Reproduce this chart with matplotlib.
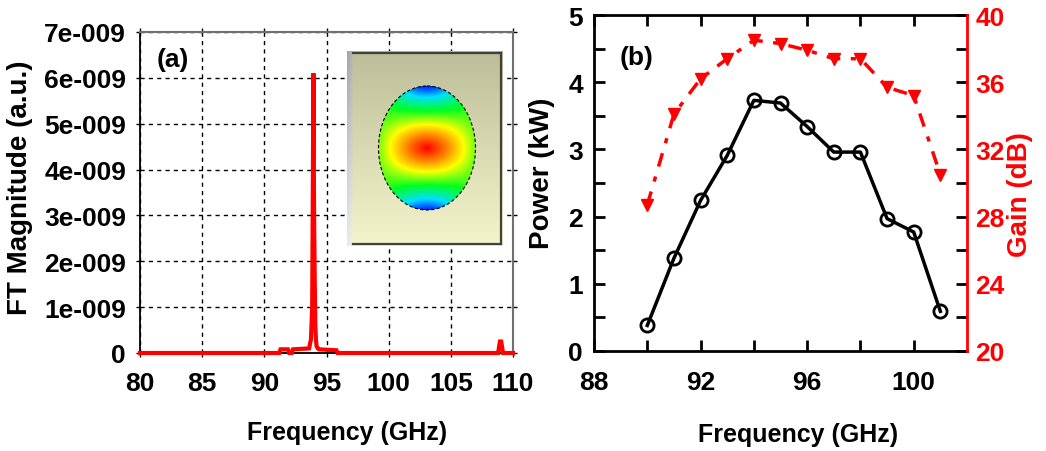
import numpy as np
import matplotlib
matplotlib.use('Agg')
import matplotlib.pyplot as plt
from matplotlib.colors import LinearSegmentedColormap
from matplotlib.patches import Ellipse
from matplotlib.ticker import FixedLocator, FixedFormatter, NullFormatter

plt.rcParams['font.family'] = ['Liberation Sans', 'DejaVu Sans']
plt.rcParams['font.weight'] = 'bold'

# ---------------- panel (a) data: FT spectrum ----------------
fft_freq = [80.0, 91.2, 91.3, 91.9, 92.0, 92.2, 92.3, 93.6, 93.75, 93.85,
            93.95, 94.0, 94.05, 94.1, 94.15, 94.2, 94.3, 94.4, 95.8, 95.9,
            108.8, 108.95, 109.05, 109.2, 110.0]
fft_mag = [0.0, 0.0, 0.08e-9, 0.08e-9, 0.0, 0.0, 0.08e-9, 0.1e-9, 0.3e-9, 1.0e-9,
           6.1e-9, 3.0e-9, 1.65e-9, 0.6e-9, 0.3e-9, 0.15e-9, 0.1e-9, 0.08e-9, 0.06e-9, 0.0,
           0.0, 0.25e-9, 0.25e-9, 0.0, 0.0]
a_xticks = [80, 85, 90, 95, 100, 105, 110]
a_yticks = [0, 1e-9, 2e-9, 3e-9, 4e-9, 5e-9, 6e-9, 7e-9]
a_yticklabels = ['0', '1e-009', '2e-009', '3e-009', '4e-009', '5e-009', '6e-009', '7e-009']

# ---------------- panel (b) data: power & gain ----------------
freq_b = [90, 91, 92, 93, 94, 95, 96, 97, 98, 99, 100, 101]
power_kw = [0.38, 1.38, 2.24, 2.91, 3.73, 3.69, 3.34, 2.96, 2.96, 1.97, 1.77, 0.59]
gain_db = [28.7, 34.1, 36.2, 37.4, 38.5, 38.3, 37.9, 37.4, 37.4, 35.7, 35.2, 30.5]
b_xticks = [88, 92, 96, 100]
b_xminor = [90, 94, 98]
power_ticks = [0, 1, 2, 3, 4, 5]
power_minor = [0.5, 1.5, 2.5, 3.5, 4.5]
gain_ticks = [20, 24, 28, 32, 36, 40]
gain_minor = [22, 26, 30, 34, 38]

W, H = 1046, 452
fig = plt.figure(figsize=(W / 100, H / 100), dpi=100)

# ================= panel (a) =================
axA = fig.add_axes([140 / W, 1 - 354 / H, 373 / W, 321 / H])
axA.plot(fft_freq, fft_mag, color='#ff0000', lw=3, zorder=3, clip_on=False,
         solid_joinstyle='miter')
axA.set_xlim(80, 110)
axA.set_ylim(0, 7e-9)
axA.xaxis.set_major_locator(FixedLocator(a_xticks))
axA.yaxis.set_major_locator(FixedLocator(a_yticks))
axA.yaxis.set_major_formatter(FixedFormatter(a_yticklabels))
axA.grid(True, color='black', linestyle=(0, (3, 3)), lw=1.0)
for s in ['left', 'bottom']:
    axA.spines[s].set_color('black')
    axA.spines[s].set_linewidth(1.3)
for s in ['top', 'right']:
    axA.spines[s].set_color('#707070')
    axA.spines[s].set_linewidth(1.5)
axA.tick_params(axis='both', direction='out', length=3, width=1, color='black',
                top=True, right=True, labelsize=19)
axA.tick_params(axis='y', pad=7)
axA.tick_params(axis='x', pad=10)

fig.text(20 / W, 1 - 188 / H, 'FT Magnitude (a.u.)', rotation=90, ha='center',
         va='center', fontsize=20, fontweight='bold')
fig.text(347 / W, 1 - 440 / H, 'Frequency (GHz)', ha='center', va='baseline',
         fontsize=18, fontweight='bold')
fig.text(157 / W, 1 - 60 / H, '(a)', ha='left', va='center', fontsize=19,
         fontweight='bold')

# ---- inset field pattern ----
nx, ny = 156, 195
img = np.ones((ny, nx, 3))
t = np.linspace(0, 1, ny)[:, None]
top_c = np.array([0.74, 0.74, 0.60])
bot_c = np.array([0.96, 0.96, 0.80])
img[:] = (top_c[None, None, :] * (1 - t[..., None]) + bot_c[None, None, :] * t[..., None])
strip_top = np.array([0.62, 0.64, 0.74])
strip_bot = np.array([0.90, 0.92, 0.97])
for i in range(6):
    w = 1 - i / 6
    col = strip_top[None, :] * (1 - t) + strip_bot[None, :] * t
    img[:, i, :] = col * w + img[:, i, :] * (1 - w)
cx, cy, ea, eb = 80.0, 97.0, 48.5, 62.0
yy, xx = np.mgrid[0:ny, 0:nx] + 0.5
X = (xx - cx) / ea
Y = (yy - cy) / eb
r = np.sqrt(X ** 2 + Y ** 2)
q = np.sqrt(X ** 2 + 4.0 * Y ** 2)
v = np.clip(1 - q / 2.0 + 0.7 * X ** 2 * Y ** 2, 0, 1)
cmap = LinearSegmentedColormap.from_list(
    'fld', [(0.0, '#0020ff'), (0.18, '#00e0ff'), (0.4, '#00ff20'),
            (0.62, '#ffff00'), (0.8, '#ff8000'), (1.0, '#ff0000')])
fc = cmap(v)[..., :3]
inside = r <= 1.0
img[inside] = fc[inside]

axI = fig.add_axes([347 / W, 1 - 247 / H, nx / W, ny / H], zorder=5)
axI.imshow(img, extent=(0, nx, ny, 0), aspect='auto', interpolation='bilinear')
axI.add_patch(Ellipse((cx, cy), 2 * ea, 2 * eb, fill=False, ec='black',
                      lw=0.8, ls=(0, (3, 2))))
axI.plot([6, 154], [1.5, 1.5], color='#404040', lw=1.6)
axI.plot([154, 154], [1.5, 193], color='#404040', lw=1.6)
axI.plot([6, 154], [193, 193], color='#404040', lw=1.6)
axI.set_xlim(0, nx)
axI.set_ylim(ny, 0)
axI.axis('off')

# ================= panel (b) =================
axB = fig.add_axes([594 / W, 1 - 352 / H, 373 / W, 336 / H])
axB.plot(freq_b, power_kw, color='black', lw=2.5, marker='o', ms=9.5,
         mfc='none', mec='black', mew=2, zorder=4)
axB.set_xlim(88, 102)
axB.set_ylim(0, 5)
axB.xaxis.set_major_locator(FixedLocator(b_xticks))
axB.xaxis.set_minor_locator(FixedLocator(b_xminor))
axB.yaxis.set_major_locator(FixedLocator(power_ticks))
axB.yaxis.set_minor_locator(FixedLocator(power_minor))
for s in ['left', 'bottom', 'top']:
    axB.spines[s].set_linewidth(2)
    axB.spines[s].set_color('black')
axB.spines['right'].set_visible(False)
axB.tick_params(axis='both', which='both', direction='in', length=8, width=2,
                top=True, right=False, labelsize=19, color='black')
axB.tick_params(axis='y', pad=8)
axB.tick_params(axis='x', pad=14)

axG = axB.twinx()
axG.plot(freq_b, gain_db, color='#ff0000', lw=2.5, ls=(0, (4, 3, 1.5, 3)),
         marker='v', ms=9, mfc='#ff0000', mec='#ff0000', zorder=4)
axG.set_ylim(20, 40)
axG.yaxis.set_major_locator(FixedLocator(gain_ticks))
axG.yaxis.set_minor_locator(FixedLocator(gain_minor))
axG.yaxis.set_minor_formatter(NullFormatter())
for s in ['left', 'bottom', 'top']:
    axG.spines[s].set_visible(False)
axG.spines['right'].set_color('#ff0000')
axG.spines['right'].set_linewidth(2)
axG.tick_params(axis='y', which='both', direction='in', length=8, width=2,
                color='black', labelcolor='#ff0000', labelsize=19, pad=6)

fig.text(542 / W, 1 - 173 / H, 'Power (kW)', rotation=90, ha='center',
         va='center', fontsize=20, fontweight='bold')
fig.text(1020 / W, 1 - 195 / H, 'Gain (dB)', rotation=90, ha='center',
         va='center', fontsize=20, fontweight='bold', color='#ff0000')
fig.text(798 / W, 1 - 442 / H, 'Frequency (GHz)', ha='center', va='baseline',
         fontsize=18, fontweight='bold')
fig.text(620 / W, 1 - 58 / H, '(b)', ha='left', va='center', fontsize=19,
         fontweight='bold')

fig.savefig('out.png', dpi=100)
